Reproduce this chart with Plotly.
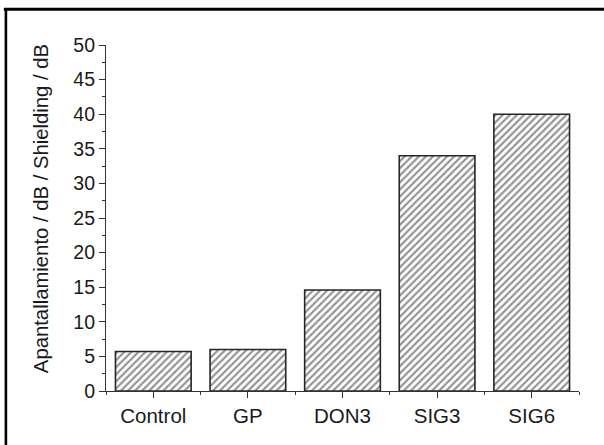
import plotly.graph_objects as go

categories = ["Control", "GP", "DON3", "SIG3", "SIG6"]
shielding_db = [5.7, 6.0, 14.6, 34.0, 40.0]
y_tick_values = [0, 5, 10, 15, 20, 25, 30, 35, 40, 45, 50]
y_title = "Apantallamiento / dB / Shielding / dB"

x_pos = list(range(len(categories)))

fig = go.Figure()
fig.add_trace(go.Bar(
    x=x_pos,
    y=shielding_db,
    width=0.8,
    marker=dict(
        color="white",
        line=dict(color="#262626", width=1.6),
        pattern=dict(shape="/", size=5, solidity=0.42, fgcolor="#262626", bgcolor="white"),
    ),
    hoverinfo="skip",
))

font_family = "Liberation Sans, Arial, sans-serif"

fig.update_layout(
    width=604, height=445,
    margin=dict(l=106, r=25, t=45, b=54),
    paper_bgcolor="white", plot_bgcolor="white",
    showlegend=False,
    font=dict(family=font_family, size=19, color="#1a1a1a"),
    xaxis=dict(
        range=[-0.5, len(categories) - 0.5],
        tickmode="array", tickvals=x_pos, ticktext=categories,
        ticks="outside", ticklen=6, tickwidth=1.2, tickcolor="#333333",
        showline=True, linecolor="#333333", linewidth=1.2,
        showgrid=False, zeroline=False,
        minor=dict(tickmode="array", tickvals=[i - 0.5 for i in range(len(categories) + 1)],
                   ticks="outside", ticklen=3, tickwidth=1.2, tickcolor="#333333", showgrid=False),
        tickfont=dict(size=20.5, color="#1a1a1a"),
    ),
    yaxis=dict(
        range=[0, 50],
        tickmode="array", tickvals=y_tick_values,
        ticks="outside", ticklen=6, tickwidth=1.2, tickcolor="#333333",
        showline=True, linecolor="#333333", linewidth=1.2,
        showgrid=False, zeroline=False,
        minor=dict(tickmode="linear", tick0=2.5, dtick=5,
                   ticks="outside", ticklen=3, tickwidth=1.2, tickcolor="#333333", showgrid=False),
        tickfont=dict(size=19.5, color="#1a1a1a"),
    ),
    annotations=[
        dict(text=y_title, xref="paper", yref="paper", x=-0.1385, y=0.527,
             xanchor="center", yanchor="middle", textangle=-90, showarrow=False,
             font=dict(size=20.3, color="#1a1a1a")),
    ],
    shapes=[
        dict(type="line", xref="paper", yref="paper", x0=-0.216, x1=1.2, y0=1.103, y1=1.103,
             line=dict(color="black", width=3)),
        dict(type="line", xref="paper", yref="paper", x0=-0.2116, x1=-0.2116, y0=1.107, y1=-0.3,
             line=dict(color="black", width=2.6)),
    ],
)

fig.write_html("out.html", config={"displayModeBar": False},
               post_script="document.body.style.margin='0';")
